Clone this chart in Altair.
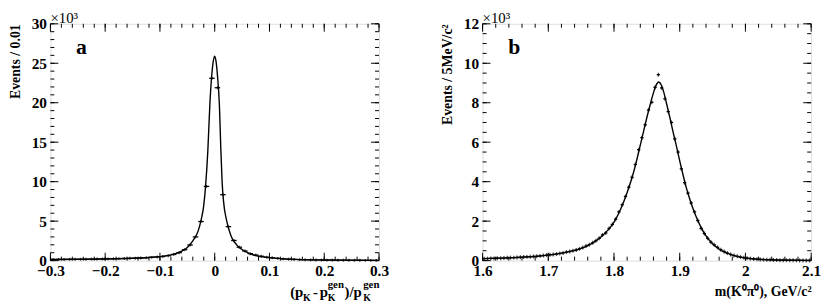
import altair as alt
import pandas as pd
import numpy as np

FONT = "Liberation Serif"
W, H = 333, 240

# ---------------- Panel a data (events in units of 10^3) ----------------
a_bin_width = 0.01
a_centers = np.round(np.arange(-0.295, 0.3, 0.01), 3)
a_counts = [0.14, 0.15, 0.15, 0.16, 0.16, 0.17, 0.18, 0.19, 0.20, 0.21,
            0.22, 0.23, 0.25, 0.27, 0.29, 0.31, 0.34, 0.37, 0.41, 0.46,
            0.52, 0.62, 0.78, 1.00, 1.38, 1.98, 3.00, 4.95, 9.40, 23.1,
            21.9, 8.35, 4.30, 2.55, 1.70, 1.22, 0.88, 0.70, 0.55, 0.43,
            0.35, 0.28, 0.22, 0.18, 0.15, 0.12, 0.10, 0.09, 0.08, 0.07,
            0.06, 0.06, 0.05, 0.05, 0.04, 0.04, 0.04, 0.03, 0.03, 0.03]
a_fit_x = [-0.3, -0.25, -0.2, -0.15, -0.12, -0.1, -0.08, -0.06, -0.05, -0.04,
           -0.03, -0.025, -0.02, -0.0166, -0.0125, -0.0087, -0.005, -0.0025, 0.0,
           0.0025, 0.005, 0.0087, 0.011, 0.0135, 0.016, 0.022, 0.03, 0.04, 0.05,
           0.06, 0.08, 0.1, 0.12, 0.15, 0.2, 0.25, 0.3]
a_fit_y = [0.14, 0.17, 0.21, 0.30, 0.40, 0.50, 0.72, 1.20, 1.65, 2.50,
           3.80, 5.10, 7.00, 9.50, 14.0, 20.0, 23.8, 25.3, 25.9,
           25.2, 23.5, 19.5, 14.5, 10.0, 7.60, 5.00, 3.10, 2.00, 1.40,
           1.00, 0.55, 0.37, 0.25, 0.15, 0.08, 0.05, 0.03]
a_xmajor = [-0.3, -0.2, -0.1, 0.0, 0.1, 0.2, 0.3]
a_xminor = list(np.round(np.arange(-0.3, 0.301, 0.02), 3))
a_ymajor = [0, 5, 10, 15, 20, 25, 30]
a_yminor = list(range(0, 31))

# ---------------- Panel b data (events in units of 10^3) ----------------
b_bin_width = 0.005
b_centers = np.round(np.arange(1.6025, 2.1, 0.005), 4)
b_counts = [0.10, 0.10, 0.11, 0.11, 0.12, 0.12, 0.13, 0.14, 0.15, 0.15,
            0.16, 0.17, 0.18, 0.19, 0.20, 0.21, 0.22, 0.24, 0.26, 0.28,
            0.30, 0.31, 0.33, 0.36, 0.39, 0.43, 0.46, 0.50, 0.54, 0.60,
            0.66, 0.74, 0.81, 0.90, 1.01, 1.13, 1.30, 1.40, 1.63, 1.83,
            2.10, 2.47, 2.83, 3.25, 3.72, 4.22, 4.87, 5.62, 6.23, 6.88,
            7.63, 8.02, 8.78, 9.42, 8.75, 8.20, 7.55, 7.00, 6.17, 5.50,
            4.65, 3.95, 3.42, 2.92, 2.47, 2.03, 1.63, 1.37, 1.13, 0.93,
            0.80, 0.67, 0.55, 0.46, 0.38, 0.31, 0.26, 0.22, 0.18, 0.15,
            0.12, 0.10, 0.08, 0.07, 0.06, 0.05, 0.04, 0.04, 0.03, 0.03,
            0.02, 0.02, 0.02, 0.02, 0.02, 0.01, 0.01, 0.01, 0.01, 0.01]
b_fit_x = [1.6, 1.62, 1.64, 1.66, 1.68, 1.7, 1.72, 1.74, 1.75, 1.76, 1.77, 1.78,
           1.79, 1.8, 1.81, 1.82, 1.83, 1.84, 1.845, 1.85, 1.855, 1.86, 1.864,
           1.868, 1.872, 1.876, 1.88, 1.885, 1.89, 1.895, 1.9, 1.905, 1.91, 1.915,
           1.92, 1.93, 1.94, 1.95, 1.96, 1.97, 1.98, 1.99, 2.0, 2.02, 2.04, 2.06,
           2.08, 2.1]
b_fit_y = [0.10, 0.12, 0.14, 0.17, 0.21, 0.28, 0.38, 0.52, 0.62, 0.76, 0.95, 1.20,
           1.52, 1.95, 2.60, 3.45, 4.50, 5.85, 6.55, 7.25, 7.90, 8.50, 8.88,
           9.05, 8.90, 8.50, 7.95, 7.25, 6.50, 5.80, 5.05, 4.35, 3.70, 3.15,
           2.65, 1.85, 1.25, 0.85, 0.58, 0.40, 0.28, 0.19, 0.13, 0.07, 0.04, 0.02,
           0.015, 0.01]
b_xmajor = [1.6, 1.7, 1.8, 1.9, 2.0, 2.1]
b_xminor = list(np.round(np.arange(1.6, 2.101, 0.02), 3))
b_ymajor = [0, 2, 4, 6, 8, 10, 12]
b_yminor = list(np.round(np.arange(0, 12.01, 0.5), 2))


def label_text(s, x, y, size, weight="bold", align="left", baseline="alphabetic"):
    return alt.Chart(pd.DataFrame({"s": [s]})).mark_text(
        font=FONT, fontSize=size, fontWeight=weight, align=align, baseline=baseline,
        color="black").encode(text="s:N", x=alt.value(x), y=alt.value(y))


def panel(centers, counts, bw, fit_x, fit_y, xdom, ydom, xmaj, xmin, ymaj, ymin,
          ytitle, xtitle, letter, bar_w, tick_size):
    xs = alt.Scale(domain=xdom, nice=False, zero=False)
    ys = alt.Scale(domain=ydom, nice=False)
    pts = pd.DataFrame({"x": centers, "n": counts})
    fit = pd.DataFrame({"x": fit_x, "n": fit_y})
    xaxis = alt.Axis(values=xmaj, format=".1~f", ticks=False, domain=False, grid=False,
                     labelFont=FONT, labelFontSize=15.5, labelFontWeight="bold",
                     labelColor="black", labelPadding=3, labelFlush=False,
                     title=xtitle if xtitle else "",
                     titleFont=FONT, titleFontSize=14, titleFontWeight="bold",
                     titleColor="black", titleAnchor="end", titleAlign="right",
                     titleX=W, titleY=35, titleBaseline="alphabetic")
    yaxis = alt.Axis(values=ymaj, format="d", ticks=False, domain=False, grid=False,
                     labelFont=FONT, labelFontSize=15.5, labelFontWeight="bold",
                     labelColor="black", labelPadding=4, labelFlush=False,
                     title=ytitle, titleFont=FONT, titleFontSize=14,
                     titleFontWeight="bold", titleColor="black", titleAnchor="end",
                     titleAlign="right", titleAngle=270, titleX=-35, titleY=0,
                     titleBaseline="middle")
    X = lambda f: alt.X(f, scale=xs, axis=xaxis)
    Y = lambda f: alt.Y(f, scale=ys, axis=yaxis)
    line = alt.Chart(fit).mark_line(color="black", strokeWidth=1.4,
                                    interpolate="monotone").encode(
        x=X("x:Q"), y=Y("n:Q"))
    hbar = alt.Chart(pts).transform_calculate(
        lo=f"datum.x - {bw / 2}", hi=f"datum.x + {bw / 2}").mark_rule(
        color="black", strokeWidth=bar_w).encode(
        x=X("lo:Q"), x2="hi:Q", y=Y("n:Q"))
    vbar = alt.Chart(pts).mark_tick(color="black", orient="vertical", size=tick_size,
                                    thickness=bar_w).encode(
        x=X("x:Q"), y=Y("n:Q"))
    layers = [line, hbar, vbar]
    for vals, L in ((xmaj, 8), (xmin, 4)):
        base = alt.Chart(pd.DataFrame({"t": vals}))
        layers.append(base.mark_rule(color="black", strokeWidth=1).encode(
            x=X("t:Q"), y=alt.value(H), y2=alt.value(H - L)))
        layers.append(base.mark_rule(color="black", strokeWidth=1).encode(
            x=X("t:Q"), y=alt.value(0), y2=alt.value(L)))
    for vals, L in ((ymaj, 8), (ymin, 4)):
        base = alt.Chart(pd.DataFrame({"t": vals}))
        layers.append(base.mark_rule(color="black", strokeWidth=1).encode(
            y=Y("t:Q"), x=alt.value(0), x2=alt.value(L)))
        layers.append(base.mark_rule(color="black", strokeWidth=1).encode(
            y=Y("t:Q"), x=alt.value(W), x2=alt.value(W - L)))
    layers.append(label_text("×10³", 0, -1, 15, weight="normal"))
    layers.append(label_text(letter, 26, 31, 22))
    return layers


layers_a = panel(a_centers, a_counts, a_bin_width, a_fit_x, a_fit_y, [-0.3, 0.3], [0, 30],
                 a_xmajor, a_xminor, a_ymajor, a_yminor, "Events / 0.01", None, "a", 1.3, 3)
# composed x title of panel a: (p_K - p_K^gen)/p_K^gen
ya = H + 37
x0 = 243
layers_a += [
    label_text("(p", x0, ya, 15),
    label_text("K", x0 + 13, ya + 4, 10),
    label_text("-", x0 + 23, ya, 15),
    label_text("p", x0 + 30, ya, 15),
    label_text("gen", x0 + 38, ya - 9, 11),
    label_text("K", x0 + 38, ya + 4, 10),
    label_text(")/p", x0 + 55, ya, 15),
    label_text("gen", x0 + 74, ya - 9, 11),
    label_text("K", x0 + 74, ya + 4, 10),
]
chart_a = alt.layer(*layers_a).properties(width=W, height=H)

layers_b = panel(b_centers, b_counts, b_bin_width, b_fit_x, b_fit_y, [1.6, 2.1], [0, 12],
                 b_xmajor, b_xminor, b_ymajor, b_yminor, "Events / 5MeV/c²",
                 "m(K⁰π⁰), GeV/c²", "b", 1.3, 4)
chart_b = alt.layer(*layers_b).properties(width=W, height=H)

chart = alt.hconcat(chart_a, chart_b, spacing=51).properties(padding=0).configure_view(
    stroke="black", strokeWidth=2).configure(background="white")

chart.save("out.html", embed_options={"renderer": "svg", "actions": False})
